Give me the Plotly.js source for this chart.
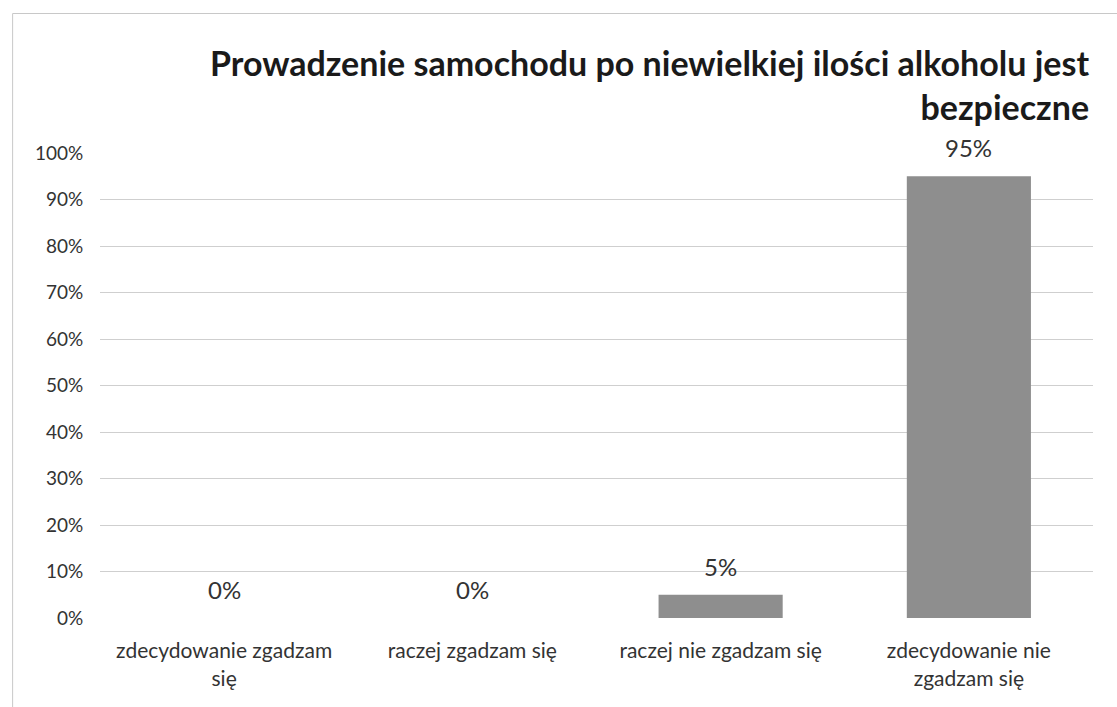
<!DOCTYPE html>
<html>
<head>
<meta charset="utf-8">
<script src="https://cdn.plot.ly/plotly-3.0.1.min.js"></script>
<style>html,body{margin:0;padding:0;background:#fff;}#chart{width:1117px;height:707px;}</style>
</head>
<body>
<div id="chart"></div>
<script>
const categories = ["zdecydowanie zgadzam się", "raczej zgadzam się", "raczej nie zgadzam się", "zdecydowanie nie zgadzam się"];
const tickLabels = ["zdecydowanie zgadzam<br>się", "raczej zgadzam się", "raczej nie zgadzam się", "zdecydowanie nie<br>zgadzam się"];
const values = [0, 0, 5, 95];
const valueLabels = ["0%", "0%", "5%", "95%"];
const yTickVals = [0, 10, 20, 30, 40, 50, 60, 70, 80, 90, 100];
const yTickText = ["0%", "10%", "20%", "30%", "40%", "50%", "60%", "70%", "80%", "90%", "100%"];
const titleText = "Prowadzenie samochodu po niewielkiej ilości alkoholu jest<br>bezpieczne";

const font = "Lato, 'Liberation Sans', sans-serif";

const trace = {
  type: "bar",
  x: categories,
  y: values,
  marker: {color: "#8e8e8e", line: {width: 0}},
  hoverinfo: "none"
};

const annotations = categories.map((c, i) => ({
  x: c, y: values[i], xref: "x", yref: "y",
  text: valueLabels[i], showarrow: false,
  yanchor: "bottom", yshift: 12,
  font: {family: font, size: 24, color: "#333"}
}));

const layout = {
  width: 1117, height: 707,
  paper_bgcolor: "#fff", plot_bgcolor: "#fff",
  margin: {l: 100, r: 24, t: 153, b: 89},
  bargap: 0.5,
  showlegend: false,
  title: {
    text: titleText,
    x: 0.975, xref: "container", xanchor: "right",
    y: 0.893, yref: "container", yanchor: "top",
    font: {family: font, size: 34, color: "#1a1a1a", weight: "bold"}
  },
  xaxis: {
    type: "category",
    tickvals: categories,
    ticktext: tickLabels,
    showgrid: false, zeroline: false, showline: false,
    ticks: "outside", ticklen: 14, tickcolor: "rgba(0,0,0,0)",
    tickfont: {family: font, size: 21, color: "#333"},
    fixedrange: true
  },
  yaxis: {
    range: [0, 100],
    tickvals: yTickVals, ticktext: yTickText,
    showgrid: true, gridcolor: "#cfcfcf", gridwidth: 1,
    zeroline: false, showline: false,
    ticks: "outside", ticklen: 12, tickcolor: "rgba(0,0,0,0)",
    tickfont: {family: font, size: 19, color: "#333"},
    fixedrange: true
  },
  annotations: annotations,
  shapes: [
    {type: "line", xref: "paper", yref: "paper", x0: -0.088, x1: 1.03, y0: 1.3, y1: 1.3, line: {color: "#c8c8c8", width: 1}},
    {type: "line", xref: "paper", yref: "paper", x0: -0.088, x1: -0.088, y0: 1.3, y1: -0.2, line: {color: "#c8c8c8", width: 1}}
  ]
};

Plotly.newPlot("chart", [trace], layout, {displayModeBar: false, staticPlot: true});
</script>
</body>
</html>
